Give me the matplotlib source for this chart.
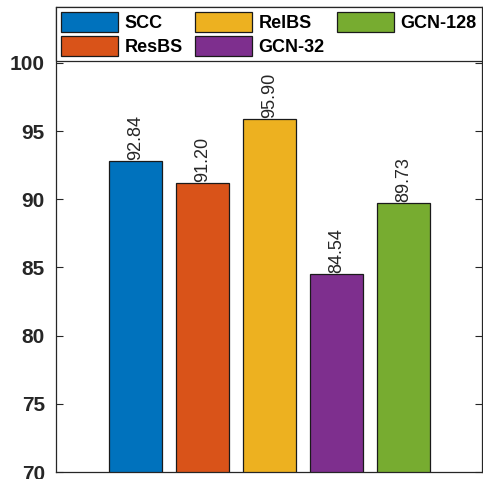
import numpy as np
import matplotlib
matplotlib.use("Agg")
import matplotlib.pyplot as plt

# values
methods = ["SCC", "ResBS", "RelBS", "GCN-32", "GCN-128"]
accuracy = [92.84, 91.20, 95.90, 84.54, 89.73]
colors = ["#0072BD", "#D95319", "#EDB120", "#7E2F8E", "#77AC30"]
yticks = [70, 75, 80, 85, 90, 95, 100]

plt.rcParams["font.family"] = ["Liberation Sans", "DejaVu Sans"]

fig = plt.figure(figsize=(4.83, 4.79), dpi=100)
ax = fig.add_axes([56 / 483, 7 / 479, 426 / 483, 465 / 479])

x = np.arange(1, len(methods) + 1)
bars = ax.bar(x, accuracy, width=0.8, color=colors, edgecolor="#1a1a1a",
              linewidth=0.9, label=methods, zorder=2)
for xi, v in zip(x, accuracy):
    ax.text(xi, v + 0.05, f"{v:.2f}", rotation=90, ha="center", va="bottom",
            fontsize=13, color="#262626")

ax.set_xlim(-0.187, 6.172)
ax.set_ylim(70, 104.1)
ax.set_xticks([])
ax.set_yticks(yticks)
ax.tick_params(axis="y", direction="in", right=True, length=5, width=0.8,
               labelsize=15, pad=8, colors="#262626")
for lab in ax.get_yticklabels():
    lab.set_fontweight("bold")
for s in ax.spines.values():
    s.set_color("#262626")
    s.set_linewidth(0.9)

leg = ax.legend(bars, methods, ncol=3, loc="upper left",
                bbox_to_anchor=(0, 1, 1, 0), mode="expand", borderaxespad=0,
                fancybox=False, edgecolor="#262626", framealpha=1,
                prop={"weight": "bold", "size": 13},
                handlelength=3.15, handleheight=1.3, handletextpad=0.35,
                columnspacing=1.9, labelspacing=0.2, borderpad=0.3)
leg.get_frame().set_linewidth(0.9)

fig.savefig("out.png", dpi=100)
